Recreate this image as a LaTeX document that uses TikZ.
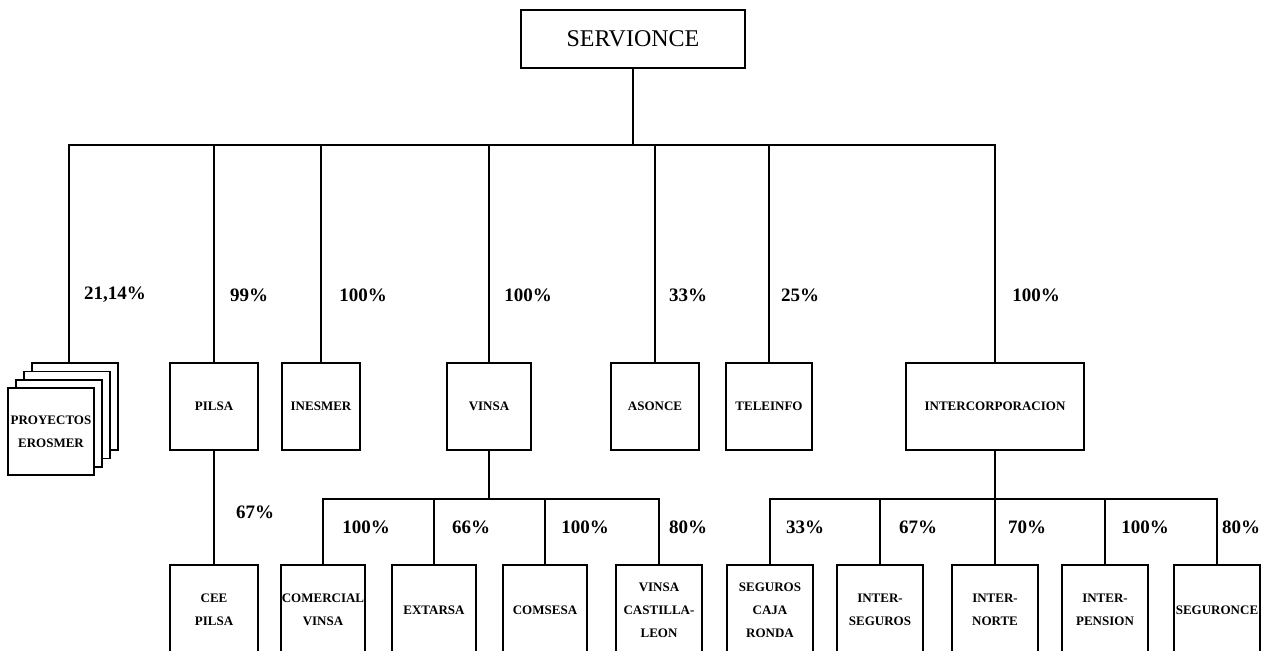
\documentclass[tikz,border=0pt]{standalone}
\usepackage{fontspec}
\setmainfont{Liberation Serif}
\tikzset{
  orgbox/.style={draw,line width=1.7pt,minimum width=#1,minimum height=87pt,inner sep=1pt,align=center,
    font=\bfseries\fontsize{13}{23}\selectfont},
  orgbox/.default=86pt,
  lowbox/.style={orgbox=#1,minimum height=90pt},
  lowbox/.default=86pt,
  pct/.style={font=\bfseries\fontsize{19}{22}\selectfont,inner sep=0pt},
  link/.style={line width=1.8pt}
}
\begin{document}
\begin{tikzpicture}[x=1pt,y=-1pt]
\useasboundingbox (0,0) rectangle (1265,650);
\clip (0,0) rectangle (1265,650);
% top
\node[draw,line width=1.7pt,minimum width=224pt,minimum height=58pt,font=\fontsize{24}{28}\selectfont] (root) at (633,39) {SERVIONCE};
% second row
\foreach \i in {3,2,1}{\node[orgbox,fill=white] (proy\i) at ({51+8*\i},{431.5-8.3*\i}) {};}
\node[orgbox,fill=white] (proy) at (51,431.5) {PROYECTOS\\EROSMER};
\node[orgbox=88pt] (pilsa) at (214,406.5) {PILSA};
\node[orgbox=78pt] (inesmer) at (321,406.5) {INESMER};
\node[orgbox=84pt] (vinsa) at (489,406.5) {VINSA};
\node[orgbox=88pt] (asonce) at (655,406.5) {ASONCE};
\node[orgbox=86pt] (teleinfo) at (769,406.5) {TELEINFO};
\node[orgbox=178pt] (interc) at (995,406.5) {INTERCORPORACION};
% third row
\node[lowbox=88pt] (ceepilsa) at (214,610) {CEE\\PILSA};
\node[lowbox=84pt] (comercial) at (323,610) {COMERCIAL\\VINSA};
\node[lowbox=84pt] (extarsa) at (434,610) {EXTARSA};
\node[lowbox=84pt] (comsesa) at (545,610) {COMSESA};
\node[lowbox] (castilla) at (659,610) {VINSA\\CASTILLA-\\LEON};
\node[lowbox] (caja) at (770,610) {SEGUROS\\CAJA\\RONDA};
\node[lowbox] (interseg) at (880,610) {INTER-\\SEGUROS};
\node[lowbox] (internorte) at (995,610) {INTER-\\NORTE};
\node[lowbox] (interpen) at (1105,610) {INTER-\\PENSION};
\node[lowbox] (seguronce) at (1217,610) {SEGURONCE};
% connectors
\coordinate (bara) at (633,145);
\draw[link] (root.south) -- (bara);
\draw[link] (bara) -| ([xshift=-6pt]proy3.north);
\foreach \n in {pilsa,inesmer,vinsa,asonce,teleinfo,interc}{\draw[link] (bara) -| (\n.north);}
\draw[link] (pilsa.south) -- (ceepilsa.north);
\coordinate (barb) at (489,499);
\draw[link] (vinsa.south) -- (barb);
\foreach \n in {comercial,extarsa,comsesa,castilla}{\draw[link] (barb) -| (\n.north);}
\coordinate (barc) at (995,499);
\draw[link] (interc.south) -- (barc);
\foreach \n in {caja,interseg,internorte,interpen,seguronce}{\draw[link] (barc) -| (\n.north);}
% percentages
\node[pct] (pa) at (115,295) {21,14\%};
\node[pct] (pb) at (249,295) {99\%};
\node[pct] (pc) at (363,295) {100\%};
\node[pct] (pd) at (528,295) {100\%};
\node[pct] (pe) at (688,295) {33\%};
\node[pct] (pf) at (800,295) {25\%};
\node[pct] (pg) at (1036,295) {100\%};
\node[pct] (ph) at (255,512) {67\%};
\node[pct] (pi) at (366,527) {100\%};
\node[pct] (pj) at (471,527) {66\%};
\node[pct] (pk) at (585,527) {100\%};
\node[pct] (pl) at (688,527) {80\%};
\node[pct] (pm) at (805,527) {33\%};
\node[pct] (pn) at (918,527) {67\%};
\node[pct] (po) at (1027,527) {70\%};
\node[pct] (pp) at (1145,527) {100\%};
\node[pct] (pq) at (1241,527) {80\%};
\end{tikzpicture}
\end{document}
